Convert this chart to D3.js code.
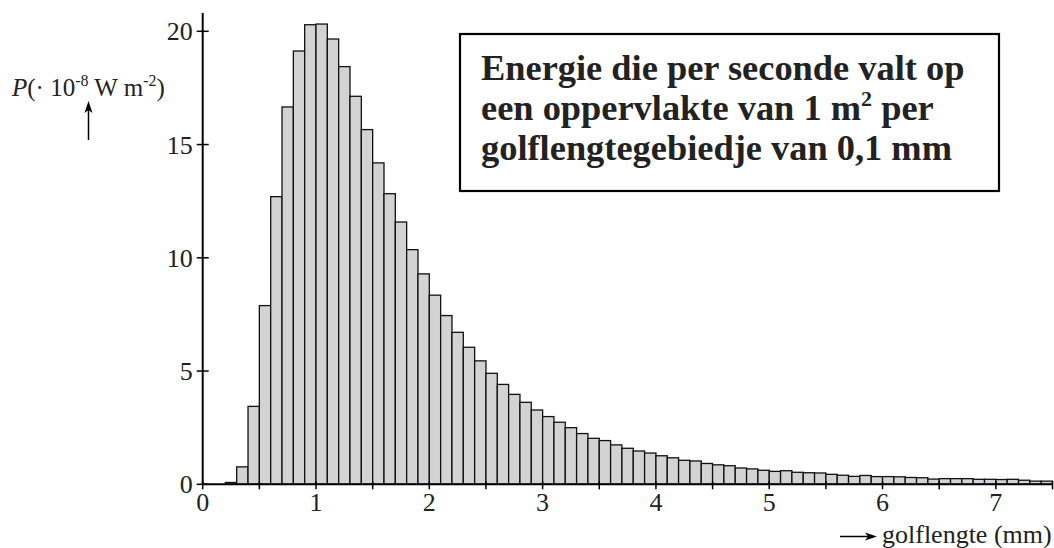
<!DOCTYPE html>
<html>
<head>
<meta charset="utf-8">
<script src="https://cdn.jsdelivr.net/npm/d3@7"></script>
<style>
  html, body { margin: 0; padding: 0; background: #fff; }
  svg { display: block; font-family: "Liberation Serif", "Times New Roman", serif; }
</style>
</head>
<body>
<svg id="chart" width="1054" height="548"></svg>
<script>
// Bin start wavelengths (mm), bin width 0.1 mm
const binStarts = [0.2,0.3,0.4,0.5,0.6,0.7,0.8,0.9,1.0,1.1,1.2,1.3,1.4,1.5,1.6,1.7,1.8,1.9,
  2.0,2.1,2.2,2.3,2.4,2.5,2.6,2.7,2.8,2.9,3.0,3.1,3.2,3.3,3.4,3.5,3.6,3.7,3.8,3.9,
  4.0,4.1,4.2,4.3,4.4,4.5,4.6,4.7,4.8,4.9,5.0,5.1,5.2,5.3,5.4,5.5,5.6,5.7,5.8,5.9,
  6.0,6.1,6.2,6.3,6.4,6.5,6.6,6.7,6.8,6.9,7.0,7.1,7.2,7.3,7.4];
// Power per bin (10^-8 W m^-2)
const power = [0.08,0.77,3.44,7.89,12.70,16.66,19.13,20.29,20.32,19.66,18.44,17.13,15.66,14.19,12.83,11.58,10.36,9.29,
  8.35,7.45,6.71,6.05,5.45,4.90,4.41,3.97,3.62,3.28,2.99,2.74,2.50,2.24,2.03,1.93,1.74,1.59,1.47,1.38,
  1.26,1.17,1.06,1.03,0.92,0.86,0.82,0.72,0.68,0.62,0.57,0.60,0.53,0.51,0.50,0.44,0.40,0.35,0.39,0.34,
  0.34,0.33,0.30,0.29,0.23,0.25,0.25,0.25,0.22,0.22,0.21,0.22,0.18,0.14,0.14];
const binWidth = 0.1;
const xTickValues = [0,0.5,1,1.5,2,2.5,3,3.5,4,4.5,5,5.5,6,6.5,7,7.5];
const xTickLabels = ["0","","1","","2","","3","","4","","5","","6","","7",""];
const yTickValues = [0,5,10,15,20];
const yTickLabels = ["0","5","10","15","20"];
const boxLines = ["Energie die per seconde valt op", "een oppervlakte van 1 m", "golflengtegebiedje van 0,1 mm"];

const svg = d3.select("#chart");
const x = d3.scaleLinear().domain([0, 7.5]).range([202.7, 1052.5]);
const y = d3.scaleLinear().domain([0, 20]).range([484.3, 31.3]);

// Bars
svg.append("g").selectAll("rect")
  .data(binStarts.map((s, i) => ({s, v: power[i]})))
  .join("rect")
  .attr("x", d => x(d.s))
  .attr("width", d => x(d.s + binWidth) - x(d.s))
  .attr("y", d => y(d.v))
  .attr("height", d => y(0) - y(d.v))
  .attr("fill", "#d3d3d3")
  .attr("stroke", "#111")
  .attr("stroke-width", 1.3);

// X axis
const xAxis = svg.append("g").attr("transform", `translate(0,${y(0)})`);
xAxis.append("line").attr("x1", x(0)).attr("x2", x(7.5)).attr("y1", 0).attr("y2", 0)
  .attr("stroke", "#000").attr("stroke-width", 2);
xAxis.selectAll("line.tick").data(xTickValues).join("line").attr("class", "tick")
  .attr("x1", d => x(d)).attr("x2", d => x(d)).attr("y1", -3).attr("y2", 5)
  .attr("stroke", "#000").attr("stroke-width", 1.5);
xAxis.selectAll("text").data(xTickValues.map((v, i) => ({v, l: xTickLabels[i]})).filter(d => d.l))
  .join("text")
  .attr("x", d => x(d.v)).attr("y", 27)
  .attr("text-anchor", "middle").attr("font-size", 26).attr("fill", "#222")
  .text(d => d.l);

// Y axis
const yAxis = svg.append("g").attr("transform", `translate(${x(0)},0)`);
yAxis.append("line").attr("x1", 0).attr("x2", 0).attr("y1", 13).attr("y2", y(0))
  .attr("stroke", "#000").attr("stroke-width", 2);
yAxis.selectAll("line.tick").data(yTickValues).join("line").attr("class", "tick")
  .attr("x1", -6).attr("x2", 6).attr("y1", d => y(d)).attr("y2", d => y(d))
  .attr("stroke", "#000").attr("stroke-width", 1.5);
yAxis.selectAll("text").data(yTickValues.map((v, i) => ({v, l: yTickLabels[i]})))
  .join("text")
  .attr("x", -10).attr("y", d => y(d.v) + 9)
  .attr("text-anchor", "end").attr("font-size", 26).attr("fill", "#222")
  .text(d => d.l);

// Y label
const yl = svg.append("text").attr("x", 12).attr("y", 96).attr("font-size", 25).attr("fill", "#222");
yl.append("tspan").attr("font-style", "italic").text("P");
yl.append("tspan").text("(· 10");
yl.append("tspan").attr("font-size", 16).attr("dy", -10).text("-8");
yl.append("tspan").attr("dy", 10).text(" W m");
yl.append("tspan").attr("font-size", 16).attr("dy", -10).text("-2");
yl.append("tspan").attr("dy", 10).text(")");

// Y arrow
svg.append("line").attr("x1", 88.5).attr("x2", 88.5).attr("y1", 140).attr("y2", 108)
  .attr("stroke", "#000").attr("stroke-width", 1.5);
svg.append("path").attr("d", "M88.5,101 L84.5,113 L88.5,110 L92.5,113 Z").attr("fill", "#000");

// X label with arrow
svg.append("line").attr("x1", 840).attr("x2", 870).attr("y1", 536.5).attr("y2", 536.5)
  .attr("stroke", "#000").attr("stroke-width", 1.5);
svg.append("path").attr("d", "M877,536.5 L865,532.5 L868,536.5 L865,540.5 Z").attr("fill", "#000");
svg.append("text").attr("x", 882).attr("y", 543).attr("font-size", 26).attr("fill", "#222")
  .text("golflengte (mm)");

// Text box
svg.append("rect").attr("x", 460).attr("y", 34).attr("width", 539).attr("height", 157)
  .attr("fill", "#fff").attr("stroke", "#000").attr("stroke-width", 2.2);
const bt = svg.append("g").attr("font-size", 36.4).attr("font-weight", "bold").attr("fill", "#222");
bt.append("text").attr("x", 481).attr("y", 80).text(boxLines[0]);
const l2 = bt.append("text").attr("x", 481).attr("y", 120);
l2.append("tspan").text(boxLines[1]);
l2.append("tspan").attr("font-size", 22).attr("dy", -14).text("2");
l2.append("tspan").attr("dy", 14).text(" per");
bt.append("text").attr("x", 481).attr("y", 160).text(boxLines[2]);
</script>
</body>
</html>
